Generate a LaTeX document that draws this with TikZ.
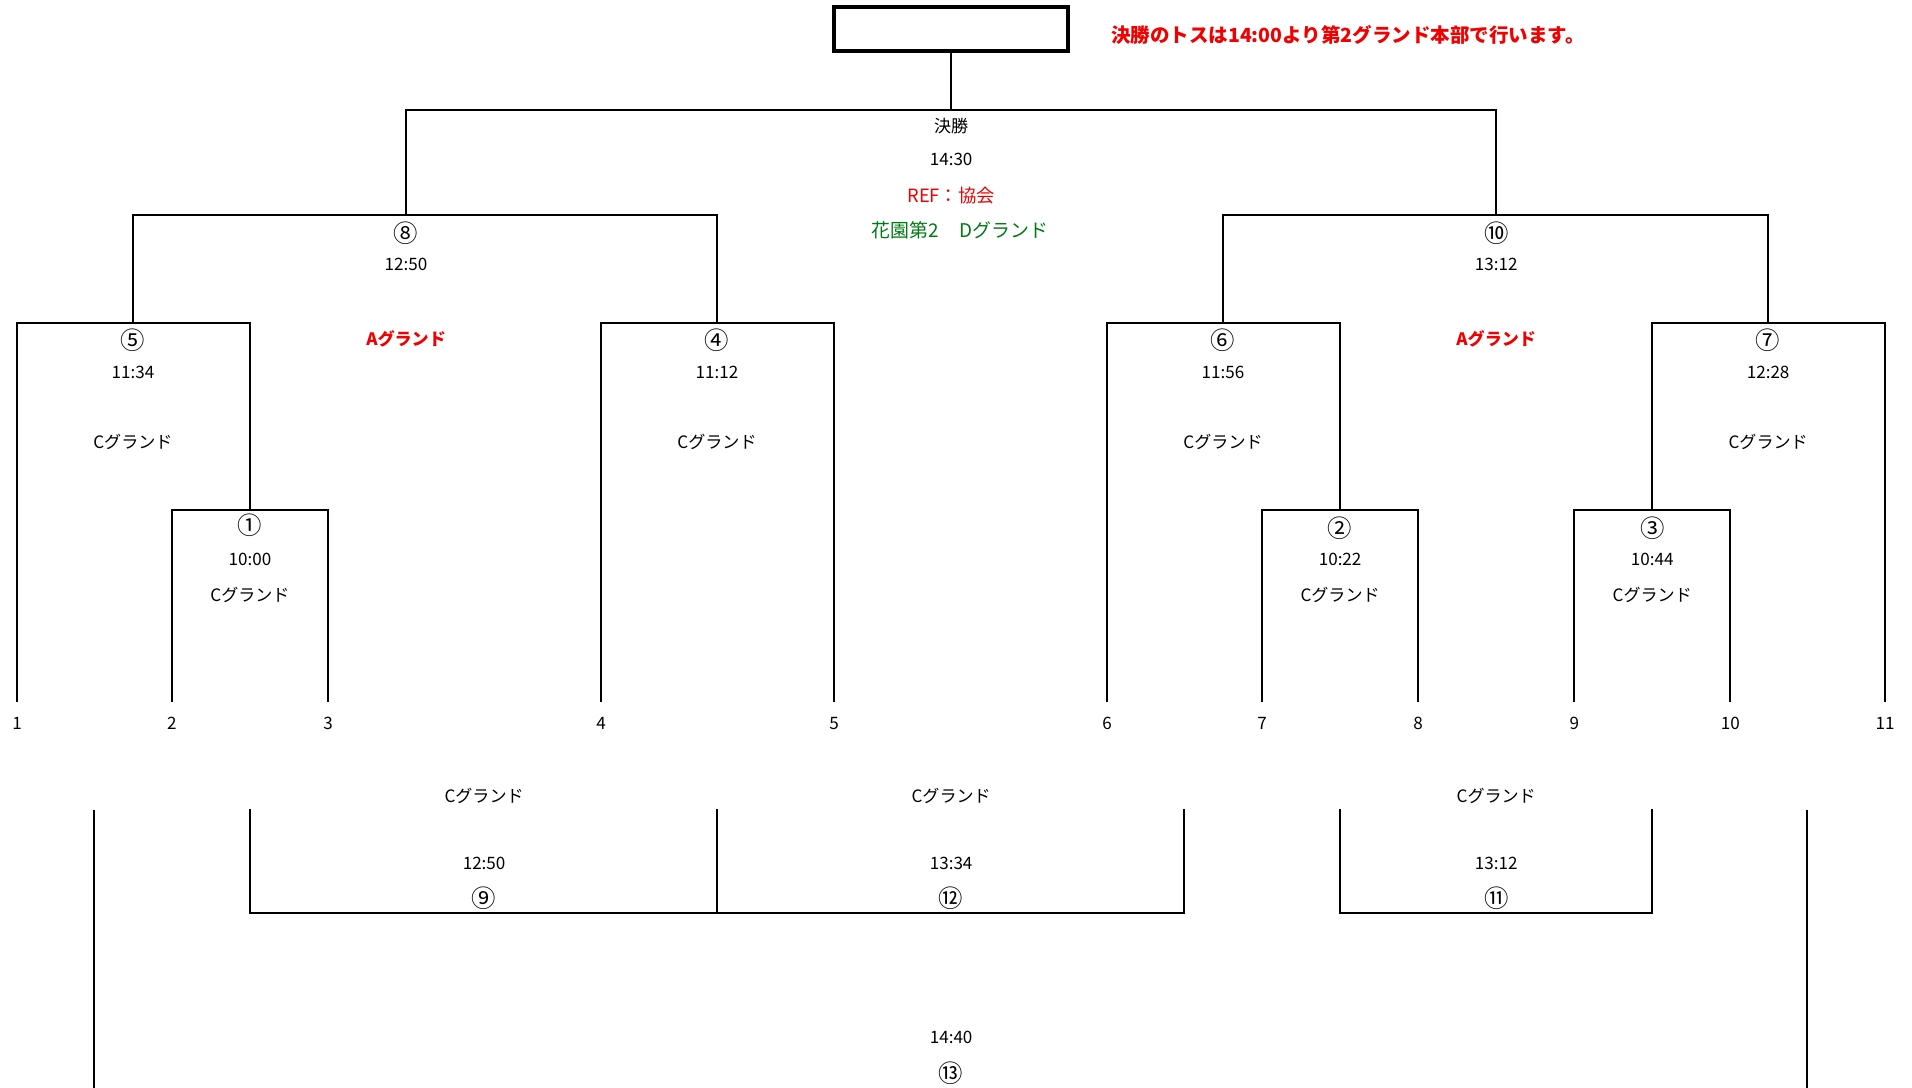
\documentclass[tikz,border=0pt]{standalone}
\usepackage{fontspec}
\setmainfont{Noto Sans CJK JP}
\definecolor{refred}{RGB}{240,0,0}
\definecolor{refgreen}{RGB}{0,120,20}
\begin{document}
\begin{tikzpicture}[x=1pt,y=-1pt,
  lbl/.style={font=\fontsize{14}{14}\selectfont, inner sep=0pt, anchor=center},
  circ/.style={font=\fontsize{20}{20}\selectfont, inner sep=0pt, anchor=center},
  redlbl/.style={lbl, text=refred, font=\fontsize{15}{15}\selectfont},
  boldred/.style={lbl, text=refred, font=\fontsize{14}{14}\selectfont\bfseries},
  br/.style={line width=1.6pt, line cap=rect},
  topbox/.style={line width=3.4pt}]
\useasboundingbox (0,0) rectangle (1568,892);
\fill[white] (0,0) rectangle (1568,892);

% ---- top box and note
\node[topbox, draw, minimum width=192pt, minimum height=36pt, inner sep=0pt] (champ) at (780,24) {};
\node[anchor=west, inner sep=0pt, text=refred, font=\fontsize{16}{16}\selectfont\bfseries] (note) at (911,29) {決勝のトスは14:00より第2グランド本部で行います。};

% ---- coordinates
\coordinate (fTop) at (780,90);
\coordinate (fL) at (333,90);   \coordinate (fR) at (1227,90);
\coordinate (s8) at (333,176);  \coordinate (s10) at (1227,176);
\coordinate (s8l) at (109,176); \coordinate (s8r) at (588,176);
\coordinate (s10l) at (1003,176); \coordinate (s10r) at (1450,176);
\coordinate (m5) at (109,265);  \coordinate (m5l) at (14,265);  \coordinate (m5r) at (205,265);
\coordinate (m4l) at (493,265); \coordinate (m4r) at (684,265); \coordinate (m4) at (588,265);
\coordinate (m6) at (1003,265); \coordinate (m6l) at (908,265); \coordinate (m6r) at (1099,265);
\coordinate (m7) at (1450,265); \coordinate (m7l) at (1355,265); \coordinate (m7r) at (1546,265);
\coordinate (m1) at (205,418);  \coordinate (m1l) at (141,418); \coordinate (m1r) at (269,418);
\coordinate (m2) at (1099,418); \coordinate (m2l) at (1035,418); \coordinate (m2r) at (1163,418);
\coordinate (m3) at (1355,418); \coordinate (m3l) at (1291,418); \coordinate (m3r) at (1419,418);
\foreach \n/\x in {1/14,2/141,3/269,4/493,5/684,6/908,7/1035,8/1163,9/1291,10/1419,11/1546}{
  \coordinate (e\n) at (\x,575);
  \node[lbl] (t\n) at (\x,593) {\n};
}

% ---- bracket lines (upper)
\draw[br] (champ.south) -- (fTop);
\draw[br] (s8) -- (fL) -- (fR) -- (s10);
\draw[br] (m5) -- (s8l) -- (s8r) -- (m4);
\draw[br] (m6) -- (s10l) -- (s10r) -- (m7);
\draw[br] (e1) -- (m5l) -- (m5r) -- (m1);
\draw[br] (e2) -- (m1l) -- (m1r) -- (e3);
\draw[br] (e4) -- (m4l) -- (m4r) -- (e5);
\draw[br] (e6) -- (m6l) -- (m6r) -- (m2);
\draw[br] (e7) -- (m2l) -- (m2r) -- (e8);
\draw[br] (m3) -- (m7l) -- (m7r) -- (e11);
\draw[br] (e9) -- (m3l) -- (m3r) -- (e10);

% ---- labels (upper)
\node[lbl] (fin) at (780,103) {決勝};
\node[lbl] (fintime) at (780,131) {14:30};
\node[redlbl] (ref) at (780,160) {REF：協会};
\node[lbl, text=refgreen, font=\fontsize{15.5}{15.5}\selectfont] (fing) at (787,189) {花園第2\hspace{17pt}Dグランド};

\node[circ] (n8) at (333,191) {⑧};
\node[lbl] (n8t) at (333,217) {12:50};
\node[boldred] (n8g) at (333,278) {Aグランド};
\node[circ] (n10) at (1227,191) {⑩};
\node[lbl] (n10t) at (1227,217) {13:12};
\node[boldred] (n10g) at (1227,278) {Aグランド};

\node[circ] (n5) at (109,279) {⑤};
\node[lbl] (n5t) at (109,305) {11:34};
\node[lbl] (n5g) at (109,362) {Cグランド};
\node[circ] (n4) at (588,279) {④};
\node[lbl] (n4t) at (588,305) {11:12};
\node[lbl] (n4g) at (588,362) {Cグランド};
\node[circ] (n6) at (1003,279) {⑥};
\node[lbl] (n6t) at (1003,305) {11:56};
\node[lbl] (n6g) at (1003,362) {Cグランド};
\node[circ] (n7) at (1450,279) {⑦};
\node[lbl] (n7t) at (1450,305) {12:28};
\node[lbl] (n7g) at (1450,362) {Cグランド};

\node[circ] (n1) at (205,431) {①};
\node[lbl] (n1t) at (205,459) {10:00};
\node[lbl] (n1g) at (205,488) {Cグランド};
\node[circ] (n2) at (1099,433) {②};
\node[lbl] (n2t) at (1099,459) {10:22};
\node[lbl] (n2g) at (1099,488) {Cグランド};
\node[circ] (n3) at (1355,433) {③};
\node[lbl] (n3t) at (1355,459) {10:44};
\node[lbl] (n3g) at (1355,488) {Cグランド};

% ---- lower part
\coordinate (b9l) at (205,664);  \coordinate (b9m) at (588,664); \coordinate (b12r) at (971,664);
\coordinate (b9lb) at (205,749); \coordinate (b9mb) at (588,749); \coordinate (b12rb) at (971,749);
\coordinate (b11l) at (1099,664); \coordinate (b11r) at (1355,664);
\coordinate (b11lb) at (1099,749); \coordinate (b11rb) at (1355,749);
\coordinate (b13l) at (77,664);  \coordinate (b13lb) at (77,895);
\coordinate (b13r) at (1482,664); \coordinate (b13rb) at (1482,895);

\draw[br] (b9l) -- (b9lb) -- (b12rb) -- (b12r);
\draw[br] (b9m) -- (b9mb);
\draw[br] (b11l) -- (b11lb) -- (b11rb) -- (b11r);
\draw[br, line cap=butt] (b13l) -- (b13lb);
\draw[br, line cap=butt] (b13r) -- (b13rb);

\node[lbl] (l9g) at (397,653) {Cグランド};
\node[lbl] (l9t) at (397,708) {12:50};
\node[circ] (l9) at (397,737) {⑨};
\node[lbl] (l12g) at (780,653) {Cグランド};
\node[lbl] (l12t) at (780,708) {13:34};
\node[circ] (l12) at (780,737) {⑫};
\node[lbl] (l11g) at (1227,653) {Cグランド};
\node[lbl] (l11t) at (1227,708) {13:12};
\node[circ] (l11) at (1227,737) {⑪};
\node[lbl] (l13t) at (780,851) {14:40};
\node[circ] (l13) at (780,880) {⑬};
\end{tikzpicture}
\end{document}
